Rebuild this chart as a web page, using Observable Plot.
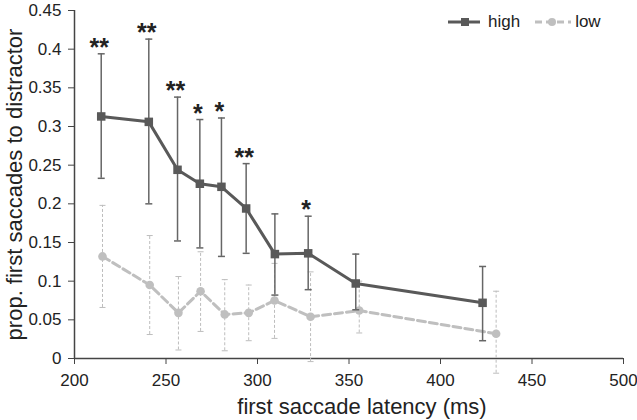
<!DOCTYPE html>
<html>
<head>
<meta charset="utf-8">
<script src="https://cdn.jsdelivr.net/npm/d3@7"></script>
<script src="https://cdn.jsdelivr.net/npm/@observablehq/plot@0.6"></script>
<style>
  html, body { margin: 0; padding: 0; background: #fff; }
  #wrap { position: relative; width: 637px; height: 420px; font-family: "Liberation Sans", Arial, sans-serif; }
  #legend { position: absolute; left: 447px; top: 12px; display: flex; align-items: center; font-size: 17px; color: #222; }
  #legend .item { display: flex; align-items: center; }
  #legend svg { display: block; }
</style>
</head>
<body>
<div id="wrap">
  <div id="chart"></div>
  <div id="legend">
    <div class="item"><svg width="34" height="20"><line x1="1" y1="10" x2="33" y2="10" stroke="#595959" stroke-width="3"/><rect x="14" y="6" width="8" height="8" fill="#595959"/></svg><span style="margin-left:7px">high</span></div>
    <div class="item" style="margin-left:14px"><svg width="38" height="20"><line x1="1" y1="10" x2="37" y2="10" stroke="#bfbfbf" stroke-width="3" stroke-dasharray="7,4"/><circle cx="18" cy="10" r="4" fill="#bfbfbf"/></svg><span style="margin-left:3px">low</span></div>
  </div>
</div>
<script>
// ---- data ----
const highX  = [214.6, 240.6, 256.3, 268.5, 280.3, 293.8, 309.5, 327.7, 353.7, 423.0];
const highY  = [0.313, 0.306, 0.244, 0.226, 0.222, 0.194, 0.135, 0.136, 0.097, 0.072];
const highHi = [0.394, 0.413, 0.338, 0.309, 0.311, 0.252, 0.187, 0.184, 0.135, 0.119];
const highLo = [0.233, 0.200, 0.152, 0.143, 0.132, 0.136, 0.082, 0.089, 0.063, 0.023];
const stars  = ["**", "**", "**", "*", "*", "**", "", "*", "", ""];

const lowX  = [215.3, 241.1, 256.8, 268.9, 282.1, 295.2, 309.3, 329.0, 355.6, 430.4];
const lowY  = [0.132, 0.095, 0.059, 0.087, 0.057, 0.059, 0.075, 0.054, 0.062, 0.032];
const lowHi = [0.198, 0.159, 0.106, 0.138, 0.102, 0.095, 0.123, 0.112, 0.100, 0.087];
const lowLo = [0.066, 0.031, 0.011, 0.035, 0.010, 0.023, 0.026, -0.004, 0.033, -0.019];

const xTicks = [200, 250, 300, 350, 400, 450, 500];
const xTickLabels = ["200", "250", "300", "350", "400", "450", "500"];
const yTicks = [0, 0.05, 0.1, 0.15, 0.2, 0.25, 0.3, 0.35, 0.4, 0.45];
const yTickLabels = ["0", "0.05", "0.1", "0.15", "0.2", "0.25", "0.3", "0.35", "0.4", "0.45"];

const xTitle = "first saccade latency (ms)";
const yTitle = "prop. first saccades to distractor";

// ---- tables ----
const high = highX.map((x, i) => ({x, y: highY[i], hi: highHi[i], lo: highLo[i], star: stars[i]}));
const low = lowX.map((x, i) => ({x, y: lowY[i], hi: lowHi[i], lo: lowLo[i]}));

// horizontal cap symbol for error bars
const cap = (w) => ({draw(ctx) { ctx.moveTo(-w, 0); ctx.lineTo(w, 0); }});

const chart = Plot.plot({
  width: 637,
  height: 420,
  marginLeft: 74,
  marginRight: 14,
  marginTop: 10,
  marginBottom: 62,
  style: {fontFamily: "Liberation Sans, Arial, sans-serif", color: "#222", background: "#fff"},
  x: {domain: [200, 500]},
  y: {domain: [0, 0.45]},
  marks: [
    Plot.axisX({ticks: xTicks, tickFormat: (d, i) => xTickLabels[i], tickSize: 6, tickPadding: 9, fontSize: 17, label: null, stroke: "#444"}),
    Plot.axisY({ticks: yTicks, tickFormat: (d, i) => yTickLabels[i], tickSize: 6, tickPadding: 7, fontSize: 17, label: null, stroke: "#444"}),
    Plot.ruleX([200], {stroke: "#444", strokeWidth: 1.5}),
    Plot.ruleY([0], {stroke: "#444", strokeWidth: 1.5}),
    Plot.text([xTitle], {frameAnchor: "bottom", textAnchor: "middle", lineAnchor: "middle", dy: 48, dx: 13, fontSize: 22, fill: "#222"}),
    Plot.text([yTitle], {frameAnchor: "left", textAnchor: "middle", rotate: -90, lineAnchor: "middle", dx: -60, fontSize: 22, fill: "#222"}),
    // low series
    Plot.ruleX(low, {x: "x", y1: "lo", y2: "hi", stroke: "#bdbdbd", strokeWidth: 1, strokeDasharray: "3,2"}),
    Plot.dot(low, {x: "x", y: "hi", symbol: cap(3), stroke: "#bdbdbd", strokeWidth: 1, fill: "none"}),
    Plot.dot(low, {x: "x", y: "lo", symbol: cap(3), stroke: "#bdbdbd", strokeWidth: 1, fill: "none"}),
    Plot.line(low, {x: "x", y: "y", stroke: "#bfbfbf", strokeWidth: 3, strokeDasharray: "8,4"}),
    Plot.dot(low, {x: "x", y: "y", r: 4.3, fill: "#bfbfbf", stroke: "none"}),
    // high series
    Plot.ruleX(high, {x: "x", y1: "lo", y2: "hi", stroke: "#666", strokeWidth: 1.5}),
    Plot.dot(high, {x: "x", y: "hi", symbol: cap(3.5), stroke: "#666", strokeWidth: 1.5, fill: "none"}),
    Plot.dot(high, {x: "x", y: "lo", symbol: cap(3.5), stroke: "#666", strokeWidth: 1.5, fill: "none"}),
    Plot.line(high, {x: "x", y: "y", stroke: "#595959", strokeWidth: 3}),
    Plot.dot(high, {x: "x", y: "y", symbol: "square", r: 4.8, fill: "#595959", stroke: "none"}),
    Plot.text(high, {x: "x", y: "hi", text: "star", lineAnchor: "bottom", dy: 2, dx: -2, fontSize: 25, fontWeight: "bold", fill: "#222"})
  ]
});
document.getElementById("chart").appendChild(chart);
</script>
</body>
</html>
